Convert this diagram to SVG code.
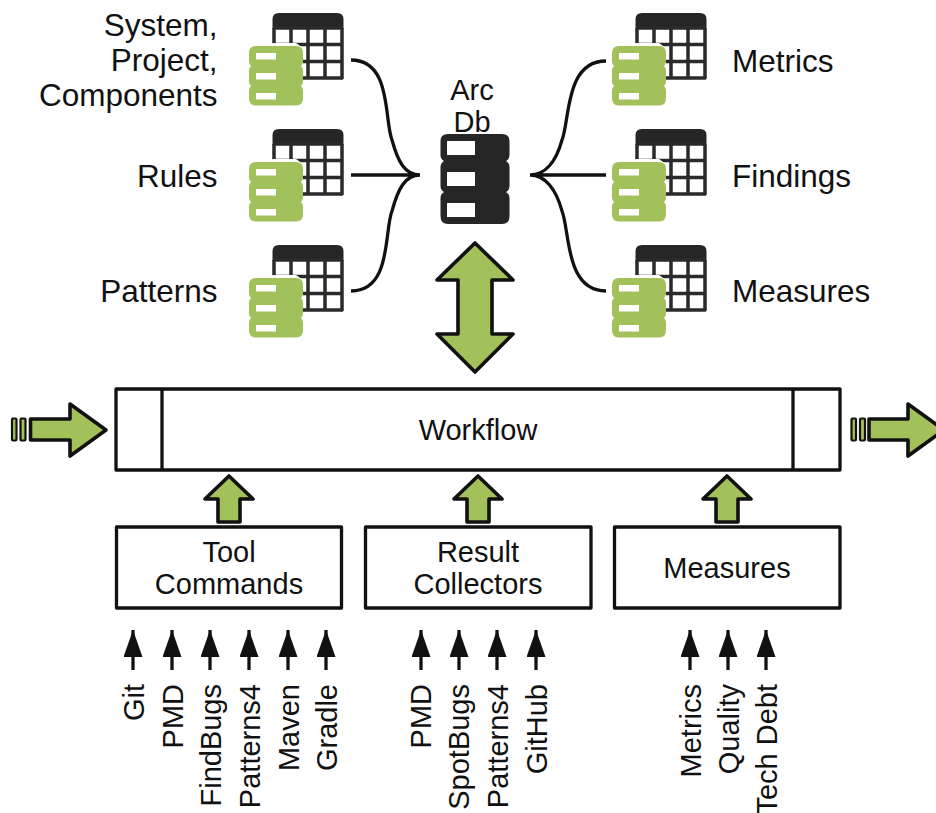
<svg xmlns="http://www.w3.org/2000/svg" width="936" height="813" viewBox="0 0 936 813">
<style>
text{font-family:"Liberation Sans",Arial,sans-serif;font-size:29px;fill:#111}
.big{font-size:31.500px}
.r{text-anchor:end}.m{text-anchor:middle}
.box{fill:#fff;stroke:#111;stroke-width:3.300;stroke-linejoin:round}
.fat{fill:#a2c15a;stroke:#111;stroke-width:3.600;stroke-linejoin:round}
.bar{fill:#a2c15a;stroke:#111;stroke-width:2.200}
.line{fill:none;stroke:#111;stroke-width:3.300}
.grid{fill:none;stroke:#2a2a2a;stroke-width:3.500}
</style>
<defs>
<marker id="ah" markerUnits="userSpaceOnUse" markerWidth="28" markerHeight="19" refX="27" refY="9.500" orient="auto" viewBox="0 0 28 19"><path d="M0 0L27 9.500L0 19Z" fill="#111"/></marker>
<g id="tbl">
<path d="M272.500 29V19Q272.500 13 279 13H337Q343.500 13 343.500 19V29Z" fill="#262626"/>
<path class="grid" d="M274 28V79M291 28V79M308 28V79M325 28V79M342 28V79M273 28H343M273 44.500H343M273 61.500H343M273 78H343"/>
<path d="M274 43H296L303 48V80H249V46Z" fill="#fff"/>
<path d="M256 46H296Q303 46 303 53V61Q303 65 300.500 66Q303 67 303 71V81Q303 85 300.500 86Q303 87 303 91V98Q303 105.500 296 105.500H256Q249 105.500 249 98V91Q249 87 251.500 86Q249 85 249 81V71Q249 67 251.500 66Q249 65 249 61V53Q249 46 256 46Z" fill="#a2c15a"/>
<rect x="256" y="53" width="20" height="6.500" fill="#fff"/>
<rect x="256" y="73" width="20" height="6.500" fill="#fff"/>
<rect x="256" y="93" width="20" height="6.500" fill="#fff"/>
</g>
</defs>
<g id="node-system"><use href="#tbl"/><text class="r big" x="217.500" y="36">System,</text><text class="r big" x="217.500" y="71">Project,</text><text class="r big" x="217.500" y="106">Components</text></g>
<g id="node-rules"><use href="#tbl" y="116"/><text class="r big" x="217.500" y="187">Rules</text></g>
<g id="node-patterns"><use href="#tbl" y="232"/><text class="r big" x="217.500" y="302">Patterns</text></g>
<g id="node-metrics"><use href="#tbl" x="363"/><text class="big" x="732" y="72">Metrics</text></g>
<g id="node-findings"><use href="#tbl" x="363" y="116"/><text class="big" x="732" y="187">Findings</text></g>
<g id="node-measures-table"><use href="#tbl" x="363" y="232"/><text class="big" x="732" y="302">Measures</text></g>
<g id="node-arcdb">
<text class="m" x="472" y="100">Arc</text><text class="m" x="472" y="132">Db</text>
<path d="M448 134H502Q509.500 134 509.500 141V155Q509.500 159 506 161Q509.500 163 509.500 167V186Q509.500 190 506 192Q509.500 194 509.500 198V216Q509.500 224 502 224H448Q440.500 224 440.500 216V198Q440.500 194 444 192Q440.500 190 440.500 186V167Q440.500 163 444 161Q440.500 159 440.500 155V141Q440.500 134 448 134Z" fill="#262626"/>
<rect x="447" y="141" width="28" height="14" fill="#fff"/>
<rect x="447" y="172" width="28" height="14" fill="#fff"/>
<rect x="447" y="203" width="28" height="14" fill="#fff"/>
</g>
<g id="connectors">
<path class="line" d="M351 60C392 60 384 120 392 140C398 162 405 175 420 175M351 175H420M351 291C392 291 384 231 392 211C398 189 405 175 420 175"/>
<path class="line" d="M606 61C565 61 570 120 562 140C556 162 545 175 530 175M606 175H530M606 291C565 291 570 231 562 211C556 189 545 175 530 175"/>
<path class="fat" d="M475 243L513 280H492V334H513L475 372L437 334H458V280H437Z"/>
<path class="fat" d="M30.500 419H70V404L106 430L70 456V440H30.500Z"/>
<rect class="bar" x="12" y="418.500" width="4.500" height="22" rx="1"/><rect class="bar" x="20.500" y="418.500" width="5" height="22" rx="1"/>
<path class="fat" d="M869 419H908V404L944 430L908 456V440H869Z"/>
<rect class="bar" x="851.500" y="418.500" width="4.500" height="22" rx="1"/><rect class="bar" x="860" y="418.500" width="5" height="22" rx="1"/>
<path class="fat" d="M229 476L253 499H240V522H218V499H205Z"/>
<path class="fat" d="M478 476L502 499H489V522H467V499H454Z"/>
<path class="fat" d="M727 476L751 499H738V522H716V499H703Z"/>
<g class="line">
<path d="M133 670V630" marker-end="url(#ah)"/><path d="M172 670V630" marker-end="url(#ah)"/><path d="M210 670V630" marker-end="url(#ah)"/><path d="M249 670V630" marker-end="url(#ah)"/><path d="M288 670V630" marker-end="url(#ah)"/><path d="M326 670V630" marker-end="url(#ah)"/>
<path d="M421 670V630" marker-end="url(#ah)"/><path d="M459 670V630" marker-end="url(#ah)"/><path d="M497 670V630" marker-end="url(#ah)"/><path d="M536 670V630" marker-end="url(#ah)"/>
<path d="M690 670V630" marker-end="url(#ah)"/><path d="M728 670V630" marker-end="url(#ah)"/><path d="M766 670V630" marker-end="url(#ah)"/>
</g>
</g>
<g id="node-workflow">
<rect class="box" x="116" y="389" width="724" height="81"/>
<path class="line" d="M162 389V470M793 389V470"/>
<text class="m" x="478" y="440">Workflow</text>
</g>
<g id="node-tool-commands"><rect class="box" x="116.500" y="527" width="225" height="81"/><text class="m" x="229" y="562">Tool</text><text class="m" x="229" y="594">Commands</text></g>
<g id="node-result-collectors"><rect class="box" x="365.500" y="527" width="225.500" height="81"/><text class="m" x="478" y="562">Result</text><text class="m" x="478" y="594">Collectors</text></g>
<g id="node-measures"><rect class="box" x="614.500" y="527" width="225.500" height="81"/><text class="m" x="727" y="578">Measures</text></g>
<g id="inputs">
<text class="r" transform="translate(144 684) rotate(-90)">Git</text>
<text class="r" transform="translate(183 684) rotate(-90)">PMD</text>
<text class="r" transform="translate(221 684) rotate(-90)">FindBugs</text>
<text class="r" transform="translate(260 684) rotate(-90)">Patterns4</text>
<text class="r" transform="translate(299 684) rotate(-90)">Maven</text>
<text class="r" transform="translate(337 684) rotate(-90)">Gradle</text>
<text class="r" transform="translate(431 684) rotate(-90)">PMD</text>
<text class="r" transform="translate(469 684) rotate(-90)">SpotBugs</text>
<text class="r" transform="translate(508 684) rotate(-90)">Patterns4</text>
<text class="r" transform="translate(547 684) rotate(-90)">GitHub</text>
<text class="r" transform="translate(701 684) rotate(-90)">Metrics</text>
<text class="r" transform="translate(739 684) rotate(-90)">Quality</text>
<text class="r" transform="translate(777 684) rotate(-90)">Tech Debt</text>
</g>
</svg>
